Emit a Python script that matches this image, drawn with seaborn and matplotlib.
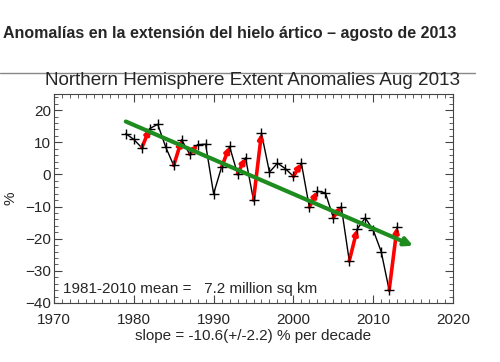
import numpy as np
import pandas as pd
import seaborn as sns
import matplotlib.pyplot as plt
from matplotlib.ticker import MultipleLocator

# August extent anomalies (%)
years = list(range(1979, 2014))
anomaly = [12.7, 10.9, 8.3, 14.3, 15.6, 8.5, 2.8, 10.8, 6.3, 9.3,
           9.4, -6.0, 2.3, 8.7, 0.2, 5.2, -8.0, 12.8, 0.7, 3.5,
           1.8, -0.6, 3.5, -10.2, -5.2, -5.7, -13.4, -10.0, -26.9, -17.0,
           -13.5, -17.3, -24.0, -36.0, -16.3]
# years where a red arrow starts (rise to the next year)
red_starts = [1981, 1985, 1987, 1991, 1993, 1995, 2000, 2002, 2005, 2007, 2012]
trend_end_year = 2015

header = "Anomalías en la extensión del hielo ártico – agosto de 2013"
title = "Northern Hemisphere Extent Anomalies Aug 2013"
mean_text = "1981-2010 mean =   7.2 million sq km"
slope_text = "slope = -10.6(+/-2.2) % per decade"

df = pd.DataFrame({"year": years, "anomaly": anomaly})

sns.set_style("ticks")
plt.rcParams['font.family'] = ['Liberation Sans', 'DejaVu Sans']

fig = plt.figure(figsize=(5.0, 3.62), dpi=100)
ax = fig.add_axes([0.108, 0.163, 0.798, 0.577])

# header and separator line
fig.text(0.006, 0.908, header, fontsize=11.5, fontweight="bold", ha="left", va="center")
fig.add_artist(plt.Line2D([0.0, 0.95], [0.798, 0.798], color="#888888", lw=1.0))
fig.text(0.506, 0.777, title, fontsize=13.6, ha="center", va="center")

sns.lineplot(data=df, x="year", y="anomaly", color="black", lw=1.0, ax=ax, zorder=2)

lookup = dict(zip(years, anomaly))
for y0 in red_starts:
    ax.annotate("", xy=(y0 + 1, lookup[y0 + 1]), xytext=(y0, lookup[y0]),
                arrowprops=dict(arrowstyle="-|>", color="red", lw=2.6,
                                mutation_scale=7, shrinkA=0, shrinkB=0),
                zorder=3)

sns.scatterplot(data=df, x="year", y="anomaly", marker="+", color="black",
                s=45, linewidth=1.0, ax=ax, zorder=4)

# linear trend
coef = np.polyfit(years, anomaly, 1)
t0, t1 = years[0], trend_end_year
ax.annotate("", xy=(t1, np.polyval(coef, t1)), xytext=(t0, np.polyval(coef, t0)),
            arrowprops=dict(arrowstyle="-|>", color="#1e8c1e", lw=3,
                            mutation_scale=12, shrinkA=0, shrinkB=0),
            zorder=5)

ax.set_xlim(1970, 2020)
ax.set_ylim(-40, 25)
ax.xaxis.set_major_locator(MultipleLocator(10))
ax.xaxis.set_minor_locator(MultipleLocator(1))
ax.yaxis.set_major_locator(MultipleLocator(10))
ax.yaxis.set_minor_locator(MultipleLocator(2))
ax.tick_params(which="both", direction="in", top=True, right=True,
               labelsize=11, color="#444444")
ax.tick_params(axis="x", pad=7)
ax.tick_params(axis="y", pad=2)
ax.tick_params(which="major", length=6, width=0.8)
ax.tick_params(which="minor", length=3, width=0.6)
for sp in ax.spines.values():
    sp.set_color("#444444")
    sp.set_linewidth(0.8)

ax.set_xlabel(slope_text, fontsize=11, labelpad=2)
ax.set_ylabel("%", fontsize=11, labelpad=6)
ax.text(0.022, 0.065, mean_text, transform=ax.transAxes, fontsize=11,
        ha="left", va="center")

fig.savefig("out.png", dpi=100)
